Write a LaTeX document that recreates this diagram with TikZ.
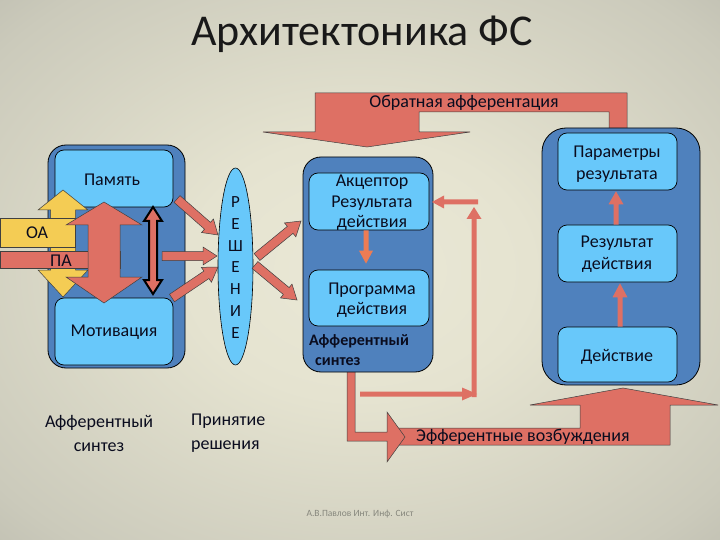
\documentclass[tikz,border=0pt]{standalone}
\usepackage{fontspec}
\setmainfont{Carlito}
\usetikzlibrary{calc,shapes.geometric}
\definecolor{dblue}{RGB}{79,129,189}
\definecolor{lblue}{RGB}{104,200,250}
\definecolor{salmon}{RGB}{222,112,100}
\definecolor{gold}{RGB}{244,204,84}
\definecolor{orng}{RGB}{236,124,84}
\definecolor{txt}{RGB}{10,12,30}
\definecolor{bga}{RGB}{234,232,214}
\definecolor{bgb}{RGB}{229,227,208}
\definecolor{bgc}{RGB}{203,202,187}
\definecolor{bgd}{RGB}{166,166,156}
\definecolor{foot}{RGB}{135,135,125}
\pgfdeclareradialshading{bgshade}{\pgfpointorigin}{color(0bp)=(bga); color(12bp)=(bgb); color(32bp)=(bgc); color(50bp)=(bgd)}
% block arrow: [style]{from}{to}{shaft half}{head half}{head length}
\newcommand\blockarrow[6][]{%
  \coordinate (bab) at ($(#3)!#6!(#2)$);
  \draw[#1] ($(#2)!#4!90:(#3)$) -- ($(bab)!#4!-90:(#2)$) -- ($(bab)!#5!-90:(#2)$) -- (#3)
    -- ($(bab)!#5!90:(#2)$) -- ($(bab)!#4!90:(#2)$) -- ($(#2)!#4!-90:(#3)$) -- cycle;}
\begin{document}
\begin{tikzpicture}[x=1pt,y=-1pt,
  outerbox/.style={draw=black, line width=0.8pt, fill=dblue, rounded corners=18pt, inner sep=0pt},
  innerbox/.style={draw=black, line width=0.7pt, fill=lblue, rounded corners=9pt, inner sep=0pt},
  lbl/.style={font=\fontsize{18}{21.6}\selectfont, text=txt, align=center, inner sep=0pt},
  outl/.style={fill=salmon, draw=black!75, line width=0.5pt, line join=miter},
  plain/.style={fill=salmon, draw=none},
  ornge/.style={fill=orng, draw=none},
  yel/.style={fill=gold, draw=black!75, line width=0.5pt, line join=miter},
  blk/.style={fill=salmon, draw=black, line width=2pt, line join=miter}]
\useasboundingbox (0,0) rectangle (720,540);
\shade[shading=bgshade] (0,0) rectangle (720,540);

% title
\node[font=\fontsize{44}{50}\selectfont, text=black!90, inner sep=0pt] (title) at (362,34) {Архитектоника ФС};

% feedback arrow
\draw[outl] (609,131) -- (609,112) -- (419,112) -- (419,132) -- (470,132) -- (367,147) -- (263,132)
  -- (315,132) -- (315,93) -- (627,93) -- (627,131) -- cycle;
\node[lbl] (fbtxt) at (464,103) {Обратная афферентация};

% efferent arrow
\draw[outl] (390,428) -- (580,428) -- (580,405) -- (530,405) -- (623,388) -- (718,405) -- (670,405)
  -- (670,445) -- (390,445) -- cycle;
\draw[outl] (347,365) -- (347,441) -- (387,441) -- (387,462) -- (405,437) -- (387,412) -- (387,432)
  -- (355,432) -- (355,365);
\node[lbl, anchor=west] (efftxt) at (416,437) {Эфферентные возбуждения};

% left box: afferent synthesis
\node[outerbox, minimum width=137pt, minimum height=223pt] (afs) at (116.5,256.5) {};
\node[innerbox, minimum width=118pt, minimum height=57pt] (mem) at (114,178.5) {};
\node[innerbox, minimum width=118pt, minimum height=67pt] (mot) at (114,331.5) {};
\node[lbl] (memtxt) at (112,180) {Память};
\node[lbl] (mottxt) at (114,332) {Мотивация};
\draw[yel] (63,190) -- (88,210) -- (75.5,210) -- (75.5,270) -- (88,270) -- (63,297) -- (38,270)
  -- (50.5,270) -- (50.5,210) -- (38,210) -- cycle;
\draw[yel] (0,218) rectangle (75.5,247);
\node[lbl] (oatxt) at (37,233) {ОА};
\draw[outl] (0,251) rectangle (120,268);
\node[lbl] (patxt) at (61,261) {ПА};
\draw[outl] (104,202) -- (142,225) -- (120,225) -- (120,277) -- (142,277) -- (104,303) -- (66,277)
  -- (88,277) -- (88,225) -- (66,225) -- cycle;
\draw[blk] (153,207) -- (162,221) -- (157,221) -- (157,280) -- (162,280) -- (153,294) -- (144,280)
  -- (149,280) -- (149,221) -- (144,221) -- cycle;

% decision ellipse
\node[ellipse, draw=black, line width=0.6pt, fill=lblue, minimum width=35pt, minimum height=197pt,
  inner sep=0pt] (resh) at (235.5,266.5) {};
\node[font=\fontsize{17}{21.8}\selectfont, text=txt, align=center, inner sep=0pt] (reshtxt)
  at (235.5,267.5) {Р\\Е\\Ш\\Е\\Н\\И\\Е};

% arrows into the decision
\coordinate (i1s) at (177,199); \coordinate (i1e) at (218,235);
\coordinate (i2s) at (162,256); \coordinate (i2e) at (217,256);
\coordinate (i3s) at (172,298); \coordinate (i3e) at (218,267);
\blockarrow[outl]{i1s}{i1e}{4.5pt}{9pt}{14pt}
\blockarrow[outl]{i2s}{i2e}{4.5pt}{9pt}{14pt}
\blockarrow[outl]{i3s}{i3e}{4.5pt}{9pt}{14pt}

% central box
\node[outerbox, minimum width=130pt, minimum height=215pt] (cen) at (368,264.5) {};
\node[innerbox, minimum width=120pt, minimum height=57pt] (acc) at (369,201.5) {};
\node[innerbox, minimum width=120pt, minimum height=56pt] (prog) at (369,298) {};
\node[lbl, font=\fontsize{18}{20.5}\selectfont] (acctxt) at (372,203) {Акцептор\\Результата\\действия};
\node[lbl, font=\fontsize{18}{20.5}\selectfont] (progtxt) at (372,300) {Программа\\действия};
\node[lbl, align=left, anchor=west, font=\fontsize{16}{20}\selectfont\bfseries] (cafs) at (309,350)
  {Афферентный\\\hspace*{6pt}синтез};
\coordinate (ap1) at ($(acc.south)+(-3,0)$); \coordinate (ap2) at ($(prog.north)+(-3,-6)$);
\blockarrow[ornge]{ap1}{ap2}{2.5pt}{7pt}{13pt}

% arrows out of the decision
\coordinate (o1s) at (257,257); \coordinate (o1e) at (301,221);
\coordinate (o2s) at (255,265); \coordinate (o2e) at (297,300);
\blockarrow[outl]{o1s}{o1e}{4.5pt}{9pt}{14pt}
\blockarrow[outl]{o2s}{o2e}{4.5pt}{9pt}{14pt}

% thin loop to acceptor
\coordinate (t1s) at (360,394); \coordinate (t1e) at (477,394);
\coordinate (t2s) at (474,397); \coordinate (t2e) at (474,207);
\coordinate (t3s) at (478,202); \coordinate (t3e) at (432,202);
\blockarrow[plain]{t1s}{t1e}{2.5pt}{6.5pt}{15pt}
\blockarrow[plain]{t2s}{t2e}{2.5pt}{7.5pt}{12pt}
\blockarrow[plain]{t3s}{t3e}{2.5pt}{6.5pt}{12pt}

% right box
\node[outerbox, rounded corners=24pt, minimum width=158pt, minimum height=257pt] (rbox) at (621,256.5) {};
\node[innerbox, minimum width=119pt, minimum height=57pt] (par) at (617.5,161.5) {};
\node[innerbox, minimum width=119pt, minimum height=57pt] (res) at (617.5,253.5) {};
\node[innerbox, minimum width=119pt, minimum height=55pt] (act) at (617.5,354.5) {};
\node[lbl] (partxt) at (617,164) {Параметры\\результата};
\node[lbl] (restxt) at (617,254) {Результат\\действия};
\node[lbl] (acttxt) at (617,357) {Действие};
\coordinate (r1s) at ($(res.north)+(-1.5,0)$); \coordinate (r1e) at ($(par.south)+(-1.5,1)$);
\coordinate (r2s) at ($(act.north)+(2.5,0)$); \coordinate (r2e) at ($(res.south)+(2.5,1)$);
\blockarrow[plain]{r1s}{r1e}{2.5pt}{7.5pt}{13pt}
\blockarrow[plain]{r2s}{r2e}{2.5pt}{7.5pt}{14pt}

% bottom labels
\node[lbl, font=\fontsize{18}{24}\selectfont] (afslbl) at (99,433) {Афферентный\\синтез};
\node[lbl, font=\fontsize{18}{24}\selectfont, align=left, anchor=west] (prlbl) at (191,433) {Принятие\\решения};
\node[font=\fontsize{9.5}{12}\selectfont, text=foot, inner sep=0pt] (footer) at (360,514) {А.В.Павлов Инт. Инф. Сист};
\end{tikzpicture}
\end{document}
